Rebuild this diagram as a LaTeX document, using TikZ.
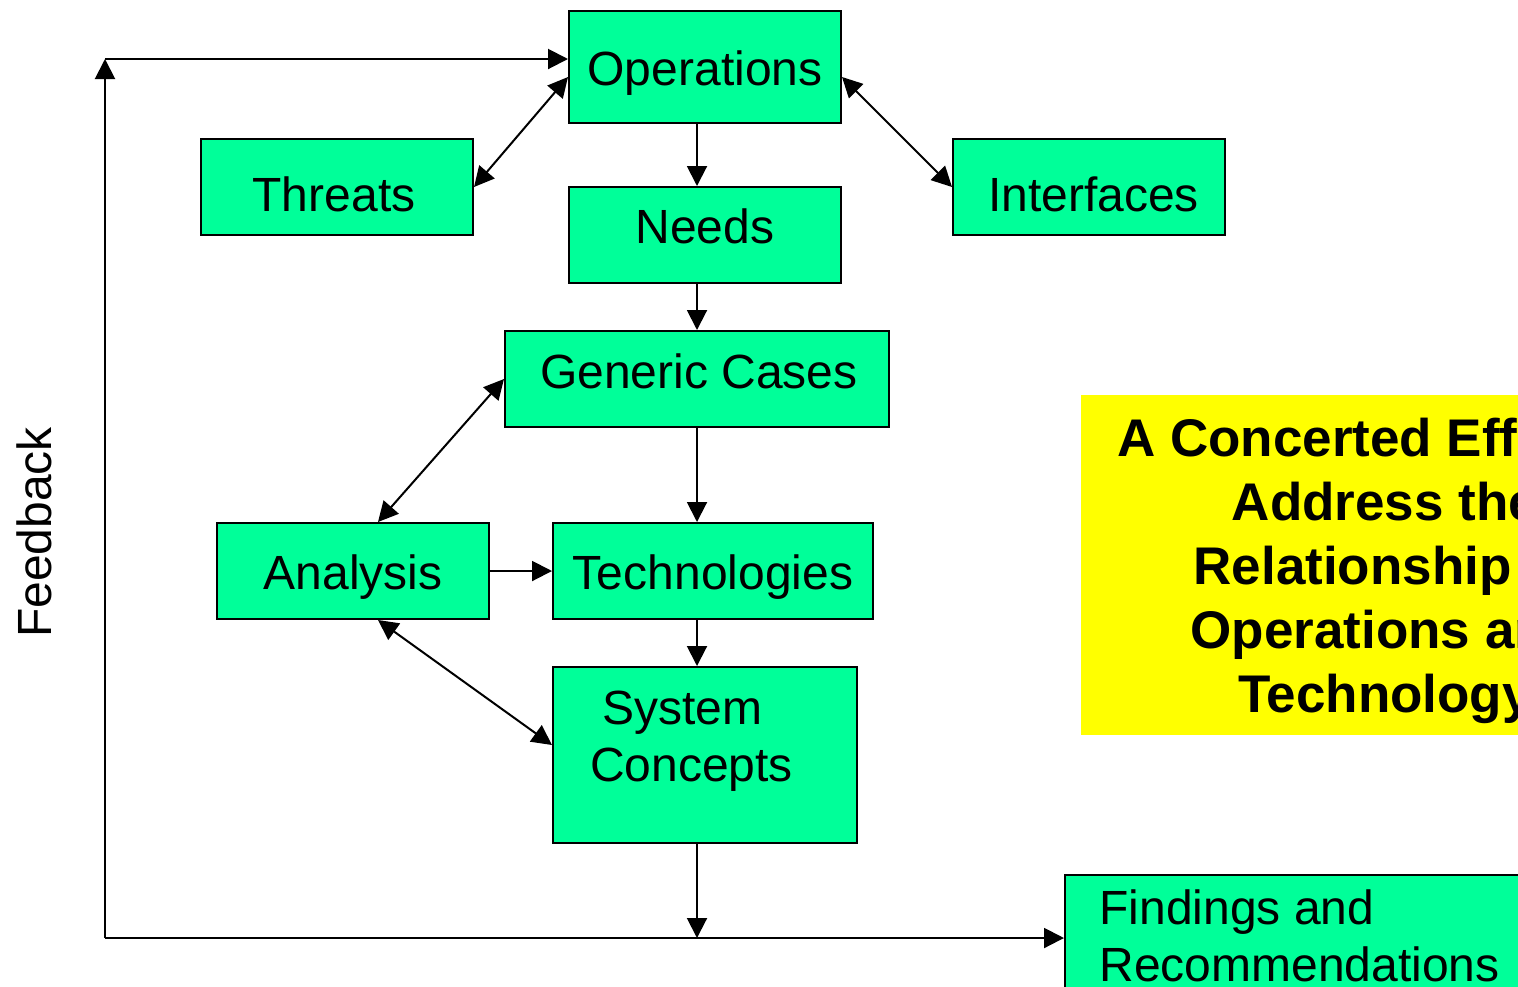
\documentclass[tikz,border=0pt]{standalone}
\usepackage{fontspec}
\setmainfont{Liberation Sans}
\usetikzlibrary{arrows.meta,calc}
\definecolor{boxgreen}{RGB}{0,255,153}
\definecolor{noteyellow}{RGB}{255,255,0}
\newcommand\liftt[2]{\raisebox{#1}[0pt][0pt]{#2}}
\begin{document}
\begin{tikzpicture}[x=0.5pt,y=-0.5pt,
  box/.style={draw=black,line width=1pt,fill=boxgreen,inner sep=0pt,font=\fontsize{24pt}{28.8pt}\selectfont},
  conn/.style={line width=1pt,-{Triangle[length=10pt,width=10pt]}},
  biconn/.style={line width=1pt,{Triangle[length=10pt,width=10pt]}-{Triangle[length=10pt,width=10pt]}},
  plainline/.style={line width=1pt},
  lbl/.style={font=\fontsize{24pt}{28.8pt}\selectfont}]
\useasboundingbox (0,0) rectangle (1518,986);
\clip (0,0) rectangle (1518,986);
\fill[white] (0,0) rectangle (1518,986);

\node[box,minimum width=136pt,minimum height=56pt] (ops) at (705,67) {\liftt{-9pt}{Operations}};
\node[box,minimum width=136pt,minimum height=48pt] (threats) at (337,187) {\hspace*{-3pt}\liftt{-12pt}{Threats}};
\node[box,minimum width=136pt,minimum height=48pt] (needs) at (705,235) {\liftt{-4pt}{Needs}};
\node[box,minimum width=136pt,minimum height=48pt] (interfaces) at (1089,187) {\hspace*{4.5pt}\liftt{-12pt}{Interfaces}};
\node[box,minimum width=192pt,minimum height=48pt] (generic) at (697,379) {\hspace*{2pt}\liftt{-4.5pt}{Generic Cases}};
\node[box,minimum width=136pt,minimum height=48pt] (analysis) at (353,571) {\liftt{-9pt}{Analysis}};
\node[box,minimum width=160pt,minimum height=48pt] (tech) at (713,571) {\liftt{-9pt}{Technologies}};
\node[box,minimum width=152pt,minimum height=88pt] (syscon) at (705,755) {\hspace*{-13.5pt}\liftt{15.5pt}{\begin{tabular}[t]{@{}l@{}}\hspace*{6pt}System\\Concepts\end{tabular}}};
\node[box,minimum width=234.5pt,minimum height=100pt] (findings) at (1299.5,975) {\liftt{25.5pt}{\begin{tabular}[t]{@{}l@{}}Findings and\\Recommendations\end{tabular}}};
\node[fill=noteyellow,inner sep=0pt,minimum width=304pt,minimum height=170pt,font=\bfseries\fontsize{26.5pt}{32pt}\selectfont] (concert) at (1385,565) {\liftt{54.5pt}{\begin{tabular}[t]{@{}c@{}}A Concerted Effort to\\Address the\\Relationship of\\Operations and\\Technology\end{tabular}}};
\node[lbl,rotate=90,anchor=base] (feedback) at (51,532.5) {Feedback};

\coordinate (spine) at (697,938);
\coordinate (fbcorner) at (105,938);
\coordinate (fbtop) at (105,59);

\draw[conn] (ops.south -| spine) -- (needs.north -| spine);
\draw[conn] (needs.south -| spine) -- (generic.north -| spine);
\draw[conn] (generic.south -| spine) -- (tech.north -| spine);
\draw[conn] (tech.south -| spine) -- (syscon.north -| spine);
\draw[conn] (syscon.south -| spine) -- (spine);
\draw[conn] (analysis.east) -- (tech.west);
\draw[biconn] (threats.east) -- ($(ops.west)+(0,10)$);
\draw[biconn] ($(ops.east)+(0,10)$) -- (interfaces.west);
\draw[biconn] (generic.west) -- ($(analysis.north)+(25,0)$);
\draw[biconn] ($(analysis.south)+(25,0)$) -- ($(syscon.west)+(0,-10)$);
\draw[plainline] (spine) -- (fbcorner);
\draw[conn] (fbcorner) -- (fbtop);
\draw[conn] (fbtop) -- (fbtop -| ops.west);
\draw[conn] (spine) -- (spine -| findings.west);
\end{tikzpicture}
\end{document}
